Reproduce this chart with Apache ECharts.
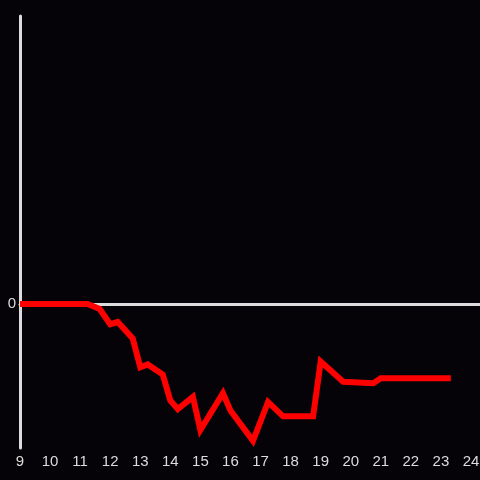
<!DOCTYPE html>
<html>
<head>
<meta charset="utf-8">
<script src="https://cdn.jsdelivr.net/npm/echarts@6/dist/echarts.min.js"></script>
<style>
  html, body { margin: 0; padding: 0; background: #050307; }
  #chart { width: 480px; height: 480px; }
</style>
</head>
<body>
<div id="chart"></div>
<script>
// hours of day (x) and relative value (y)
const hours = [9, 11.25, 11.65, 12, 12.25, 12.75, 13, 13.25, 13.75, 14, 14.25, 14.75,
  15, 15.75, 16, 16.75, 17.25, 17.75, 18.75, 19, 19.75, 20.75, 21, 23.33];
const values = [0, 0, -0.035, -0.14, -0.125, -0.24, -0.44, -0.42, -0.49, -0.67, -0.73, -0.645,
  -0.875, -0.62, -0.74, -0.95, -0.68, -0.78, -0.78, -0.4, -0.54, -0.55, -0.515, -0.515];
const xTicks = { min: 9, max: 24.3, interval: 1 };
const yTicks = { min: -1, max: 2, interval: 1 };

const textColor = '#dcdcdc';
const labelFont = 'Liberation Sans, sans-serif';

const chart = echarts.init(document.getElementById('chart'));
chart.setOption({
  backgroundColor: '#050307',
  animation: false,
  grid: { left: 20, right: 0, top: 16, bottom: 32, outerBoundsMode: 'none', containLabel: false },
  xAxis: [
    {
      type: 'value',
      min: xTicks.min,
      max: xTicks.max,
      interval: xTicks.interval,
      axisLine: { show: false, onZero: false },
      axisTick: { show: false },
      splitLine: { show: false },
      axisLabel: {
        color: textColor,
        fontSize: 15,
        fontFamily: labelFont,
        margin: 6,
        showMaxLabel: true,
        formatter: v => (Number.isInteger(v) ? String(v) : '')
      }
    },
    {
      // zero line, drawn under the series
      type: 'value',
      position: 'bottom',
      min: xTicks.min,
      max: xTicks.max,
      axisLine: { show: true, onZero: true, lineStyle: { color: textColor, width: 3 } },
      axisTick: { show: false },
      axisLabel: { show: false },
      splitLine: { show: false }
    }
  ],
  yAxis: {
    type: 'value',
    z: 3,
    min: yTicks.min,
    max: yTicks.max,
    interval: yTicks.interval,
    axisLine: { show: true, lineStyle: { color: textColor, width: 3 } },
    axisTick: { show: false },
    splitLine: { show: false },
    axisLabel: {
      color: textColor,
      fontSize: 15,
      fontFamily: labelFont,
      margin: 4,
      formatter: v => (v === 0 ? '0' : '')
    }
  },
  series: [
    {
      type: 'line',
      data: hours.map((h, i) => [h, values[i]]),
      showSymbol: false,
      lineStyle: { color: '#ff0000', width: 6, join: 'miter' }
    }
  ]
});
</script>
</body>
</html>
